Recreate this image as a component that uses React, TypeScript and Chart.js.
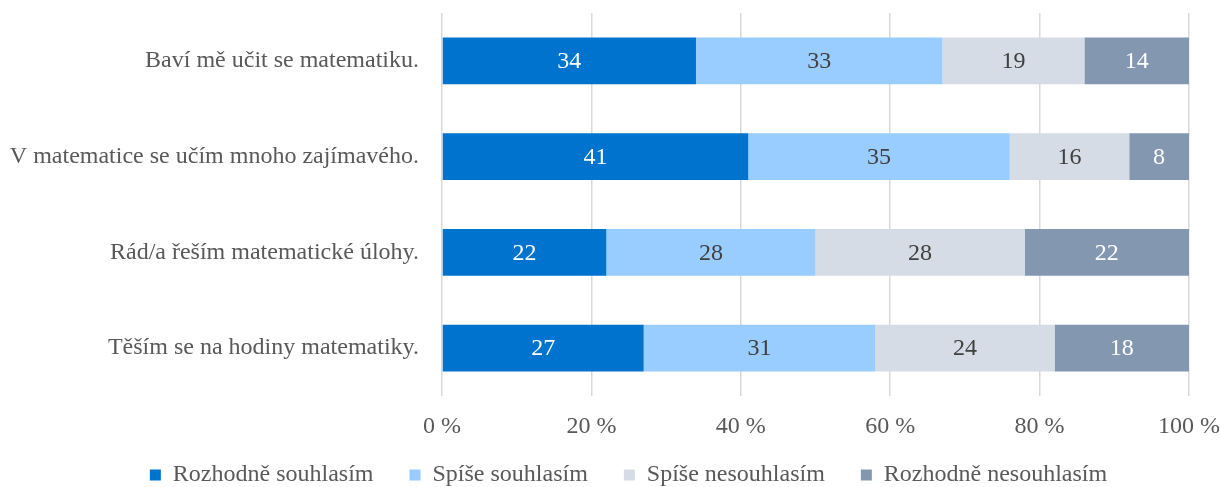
import React, { useEffect, useRef } from "react";
import { Chart, registerables } from "chart.js";

Chart.register(...registerables);

const categories = [
  "Baví mě učit se matematiku.",
  "V matematice se učím mnoho zajímavého.",
  "Rád/a řeším matematické úlohy.",
  "Těším se na hodiny matematiky.",
];
const seriesNames = ["Rozhodně souhlasím", "Spíše souhlasím", "Spíše nesouhlasím", "Rozhodně nesouhlasím"];
const rozhodneSouhlasim = [34, 41, 22, 27];
const spiseSouhlasim = [33, 35, 28, 31];
const spiseNesouhlasim = [19, 16, 28, 24];
const rozhodneNesouhlasim = [14, 8, 22, 18];
const seriesColors = ["#0073CF", "#99CCFF", "#D6DCE5", "#8497B0"];
const labelColors = ["#FFFFFF", "#404040", "#404040", "#FFFFFF"];
const xTicks = [0, 20, 40, 60, 80, 100];

const FONT = "'Liberation Serif', 'Times New Roman', serif";
const FS = 24;

const valueLabels = {
  id: "valueLabels",
  afterDatasetsDraw(chart: any) {
    const ctx = chart.ctx;
    ctx.save();
    ctx.font = `${FS}px ${FONT}`;
    ctx.textAlign = "center";
    ctx.textBaseline = "middle";
    chart.data.datasets.forEach((ds: any, di: number) => {
      const meta = chart.getDatasetMeta(di);
      meta.data.forEach((bar: any, i: number) => {
        const p = bar.getProps(["x", "y", "base"], true);
        ctx.fillStyle = labelColors[di];
        ctx.fillText(String(ds.data[i]), (p.x + p.base) / 2, p.y + 1);
      });
    });
    ctx.restore();
  },
};

// shifts the legend's horizontal box so it is centred like the reference
const legendShift = {
  id: "legendShift",
  beforeDraw(chart: any) {
    const L = chart.legend;
    if (L) {
      L.left = 38;
      L.right = 1219;
      L.width = L.right - L.left;
    }
  },
};

export default function App() {
  const ref = useRef<HTMLCanvasElement>(null);
  useEffect(() => {
    document.body.style.margin = "0";
    const allData = [rozhodneSouhlasim, spiseSouhlasim, spiseNesouhlasim, rozhodneNesouhlasim];
    const chart = new Chart(ref.current!, {
      type: "bar",
      data: {
        labels: categories,
        datasets: seriesNames.map((n, i) => ({
          label: n,
          data: allData[i],
          backgroundColor: seriesColors[i],
          borderWidth: 0,
          categoryPercentage: 1,
          barPercentage: 0.49,
        })),
      },
      options: {
        indexAxis: "y",
        animation: false,
        responsive: false,
        maintainAspectRatio: false,
        layout: { padding: { top: 13, right: 31, left: 0, bottom: -10 } },
        scales: {
          x: {
            stacked: true,
            min: 0,
            max: 100,
            afterBuildTicks: (s: any) => {
              s.ticks = xTicks.map((v) => ({ value: v }));
            },
            afterFit: (s: any) => {
              s.height = 67;
              s.paddingLeft = 0;
              s.paddingRight = 0;
            },
            ticks: {
              callback: (v: any) => `${v} %`,
              color: "#595959",
              font: { family: FONT, size: FS },
              padding: 16,
            },
            grid: { color: "#D9D9D9", lineWidth: 1.5, drawTicks: false },
            border: { display: false },
          },
          y: {
            stacked: true,
            afterFit: (s: any) => {
              s.width = 442;
              s.paddingTop = 0;
              s.paddingBottom = 0;
            },
            ticks: {
              color: "#595959",
              font: { family: FONT, size: FS },
              padding: 15,
            },
            grid: { display: false },
            border: { display: false },
          },
        },
        plugins: {
          legend: {
            position: "bottom",
            labels: {
              color: "#595959",
              font: { family: FONT, size: FS, lineHeight: 1 },
              boxWidth: 11,
              boxHeight: 11,
              padding: 0,
              generateLabels: (c: any) => {
                const items = Chart.defaults.plugins.legend.labels.generateLabels(c);
                return items.map((it: any, i: number) => ({
                  ...it,
                  text: i < items.length - 1 ? it.text + "\u2003\u2002" : it.text,
                }));
              },
            },
          },
          tooltip: { enabled: false },
        },
      },
      plugins: [valueLabels, legendShift],
    } as any);
    return () => chart.destroy();
  }, []);
  return (
    <div style={{ width: 1220, height: 487 }}>
      <canvas ref={ref} width={1220} height={487} style={{ width: 1220, height: 487, display: "block" }} />
    </div>
  );
}
